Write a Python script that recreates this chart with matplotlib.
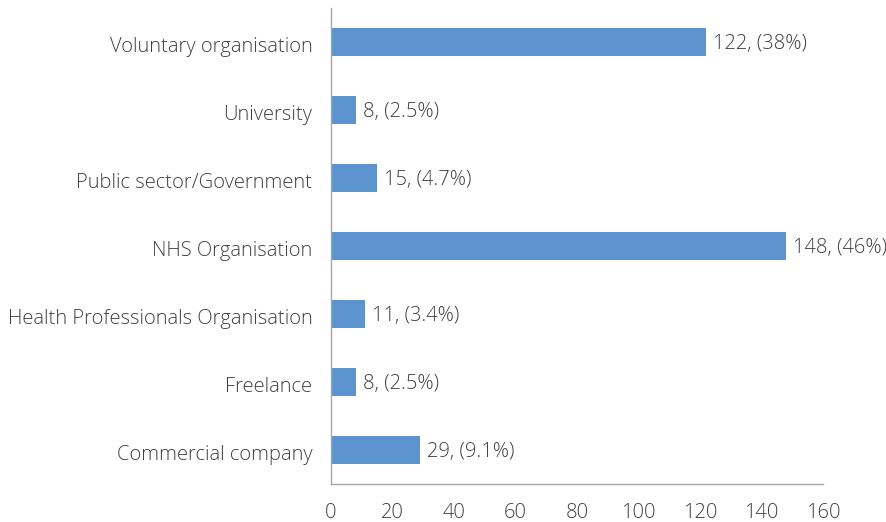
import matplotlib
matplotlib.use("Agg")
import matplotlib.pyplot as plt
import matplotlib.transforms as mtransforms

# Data (bottom to top as drawn)
categories = ["Commercial company", "Freelance", "Health Professionals Organisation",
              "NHS Organisation", "Public sector/Government", "University",
              "Voluntary organisation"]
counts = [29, 8, 11, 148, 15, 8, 122]
percents = ["9.1%", "2.5%", "3.4%", "46%", "4.7%", "2.5%", "38%"]
xticks = [0, 20, 40, 60, 80, 100, 120, 140, 160]

plt.rcParams["font.family"] = ["Open Sans", "DejaVu Sans"]
plt.rcParams["font.weight"] = "light"
text_color = "#404040"
fs = 14.5

fig = plt.figure(figsize=(8.86, 5.22), dpi=100)
ax = fig.add_axes([0.3736, 0.0728, 0.5553, 0.9119])

y = range(len(categories))
bars = ax.barh(y, counts, height=0.4, color="#5B94CE")

for rect, c, p in zip(bars, counts, percents):
    ax.annotate(f"{c}, ({p})", xy=(rect.get_width(), rect.get_y() + rect.get_height() / 2),
                xytext=(5, -1.5), textcoords="offset points", va="center", ha="left",
                fontsize=fs, color=text_color)

ax.set_xlim(0, 160)
ax.set_ylim(-0.5, len(categories) - 0.5)
ax.set_xticks(xticks)
ax.set_yticks(list(y))
ax.set_yticklabels(categories)
ax.tick_params(axis="both", length=0, labelsize=fs, colors=text_color)
ax.tick_params(axis="y", pad=13.5)
ax.tick_params(axis="x", pad=13.5)

# nudge category labels down a little
shift = mtransforms.ScaledTranslation(0, -2 / 72, fig.dpi_scale_trans)
for lbl in ax.get_yticklabels():
    lbl.set_transform(lbl.get_transform() + shift)

for side in ["top", "right"]:
    ax.spines[side].set_visible(False)
for side in ["left", "bottom"]:
    ax.spines[side].set_color("#A6A6A6")
    ax.spines[side].set_linewidth(1.0)

fig.savefig("out.png", dpi=100)
